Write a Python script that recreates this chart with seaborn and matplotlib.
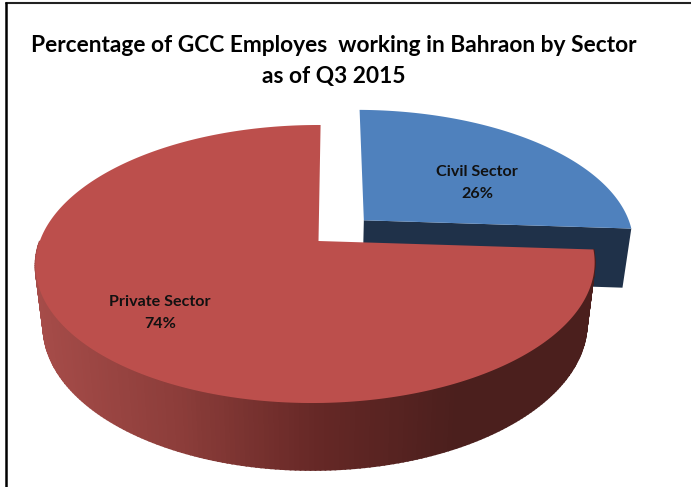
import numpy as np
import matplotlib
matplotlib.use('Agg')
import matplotlib.pyplot as plt
import seaborn as sns

# data
sectors = ['Civil Sector', 'Private Sector']
shares = [26, 74]
explode = [0.23, 0]
title_lines = ['Percentage of GCC Employes  working in Bahraon by Sector', 'as of Q3 2015']

top_colors = ['#4F81BD', '#BC4F4C']
wall_blue = '#1F3149'
wall_stops = ['#A64C49', '#8C3D3A', '#662826', '#4B1F1D', '#4B1F1D']

# tilted pie projection, in pixels of the 691x487 picture
TIP_X, TIP_Y = 318.5, 241
A, B, K, M = 275.7, 135.2, 0.1655, 0.0107
LEAN = 0.018


def project(x, y):
    '''unit disc coordinates to picture pixels, far side gets smaller'''
    w = 1 + K * y + M * x
    up = B * y / w
    return TIP_X + A * x / w + LEAN * up, TIP_Y - up


def drop(px, py):
    '''same point on the bottom face of the pie'''
    return 316 + (px - 316) * 0.972, TIP_Y + 1.045 * (py - TIP_Y) + 59.7


def outline(wedge, n=300):
    t = np.radians(np.linspace(wedge.theta1, wedge.theta2, n))
    x = wedge.center[0] + wedge.r * np.cos(t)
    y = wedge.center[1] + wedge.r * np.sin(t)
    return x, y


sns.set_theme(style='white')
plt.rcParams['font.family'] = ['Lato', 'DejaVu Sans']

fig = plt.figure(figsize=(6.91, 4.87), dpi=100)
ax = fig.add_axes([0, 0, 1, 1])
wedges, _ = ax.pie(shares, explode=explode, startangle=90, counterclock=False)

ax.set_aspect('auto')
ax.set_xlim(0, 691)
ax.set_ylim(487, 0)
ax.axis('off')

side_shades = sns.blend_palette(wall_stops, 256)

for z, (wedge, color) in enumerate(zip(wedges, top_colors)):
    wedge.remove()
    arc_x, arc_y = outline(wedge)
    cx, cy = wedge.center
    px, py = project(np.r_[cx, arc_x], np.r_[cy, arc_y])
    base_z = z * 2 + 1

    if color == top_colors[0]:
        # the cut face of the pulled out slice, arc starts at its lower end
        bx, by = drop(px, py)
        ax.fill(np.r_[px[0], px[1], bx[1], bx[0]],
                np.r_[py[0], py[1], by[1], by[0]],
                color=wall_blue, lw=0, zorder=base_z)
    else:
        # outer wall, shaded from left to right, back half stays hidden
        wx, wy = px[1:], py[1:]
        bx, by = drop(wx, wy)
        for i in range(len(wx) - 1):
            if wy[i] < TIP_Y and wy[i + 1] < TIP_Y:
                continue
            pos = (wx[i] - 36) / (595 - 36)
            shade = side_shades[int(np.clip(pos, 0, 1) * 255)]
            ax.fill([wx[i], wx[i + 1], bx[i + 1], bx[i]],
                    [wy[i], wy[i + 1], by[i + 1], by[i]],
                    color=shade, lw=1.2, zorder=base_z)

    ax.fill(px, py, color=color, lw=0, zorder=base_z + 1)

# labels
label_pos = [(477, 172, 194.5), (160, 301.5, 324.5)]
for name, share, (lx, ly1, ly2) in zip(sectors, shares, label_pos):
    ax.text(lx, ly1, name, ha='center', va='center', fontsize=11.6,
            fontweight='bold', color='#111111', zorder=10)
    ax.text(lx, ly2, f'{share}%', ha='center', va='center', fontsize=11.6,
            fontweight='bold', color='#111111', zorder=10)

ax.text(334, 46, title_lines[0], ha='center', va='center', fontsize=16.4,
        fontweight='bold', color='black', zorder=10)
ax.text(334, 77, title_lines[1], ha='center', va='center', fontsize=16.4,
        fontweight='bold', color='black', zorder=10)

# frame of the screenshot, top and left only
ax.plot([6, 691], [3, 3], color='#222222', lw=1.5, zorder=11)
ax.plot([6, 6], [3, 487], color='black', lw=1.8, zorder=11)

plt.savefig('out.png', dpi=100)
plt.close()
